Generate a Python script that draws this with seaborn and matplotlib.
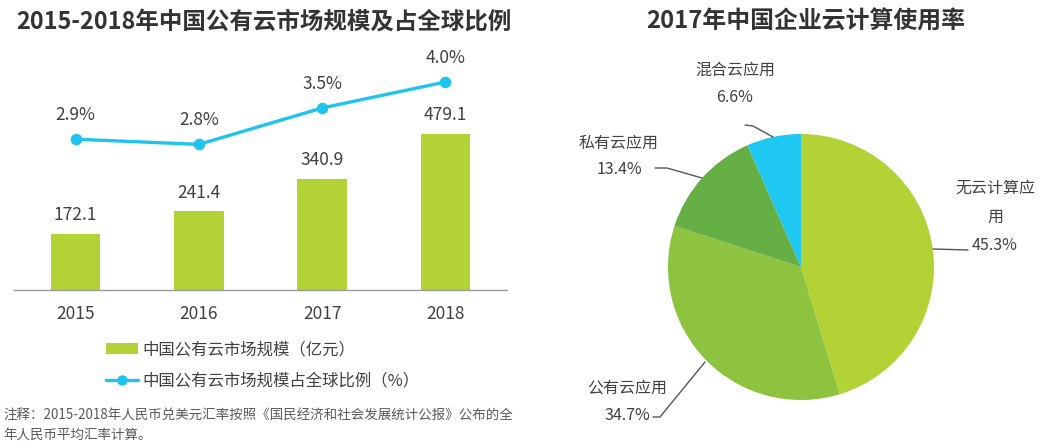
import matplotlib
matplotlib.use("Agg")
import matplotlib.pyplot as plt
import seaborn as sns
import pandas as pd
from matplotlib.patches import Patch
from matplotlib.lines import Line2D

# ---------------- data ----------------
years = ["2015", "2016", "2017", "2018"]
market_size = [172.1, 241.4, 340.9, 479.1]          # 亿元
global_share = [2.9, 2.8, 3.5, 4.0]                 # %
bar_title = "2015-2018年中国公有云市场规模及占全球比例"
bar_legend = ["中国公有云市场规模（亿元）", "中国公有云市场规模占全球比例（%）"]
footnote = ["注释：2015-2018年人民币兑美元汇率按照《国民经济和社会发展统计公报》公布的全",
            "年人民币平均汇率计算。"]

pie_title = "2017年中国企业云计算使用率"
pie_labels = ["无云计算应\n用", "公有云应用", "私有云应用", "混合云应用"]
pie_values = [45.3, 34.7, 13.4, 6.6]

# ---------------- style ----------------
sns.set_theme(style="white")
plt.rcParams['font.family'] = ['Noto Sans CJK SC', 'DejaVu Sans']
TXT = "#404040"
BAR_C = "#B2D235"
LINE_C = "#1FC3EF"
PIE_C = ["#B2D235", "#8DC33F", "#66AF45", "#1FC8F0"]

W, H = 1049, 441
fig = plt.figure(figsize=(W / 100, H / 100), dpi=100)

def fx(px):
    return px / W

def fy(py):
    return 1 - py / H

# ---------------- bar + line chart ----------------
ax_left, ax_right, ax_top, ax_bot = 14, 507, 50, 290
ax = fig.add_axes([fx(ax_left), fy(ax_bot), fx(ax_right - ax_left), (ax_bot - ax_top) / H])
df = pd.DataFrame({"year": years, "size": market_size, "share": global_share})
sns.barplot(data=df, x="year", y="size", ax=ax, color=BAR_C, width=0.40,
            saturation=1, edgecolor="none")
ax.set_xlim(-0.5, 3.5)
ax.set_ylim(0, 737)
for c in ax.containers:
    ax.bar_label(c, labels=[f"{v:.1f}" for v in market_size], padding=7,
                 fontsize=12.5, color=TXT)
for s in ["top", "left", "right"]:
    ax.spines[s].set_visible(False)
ax.spines["bottom"].set_color("#9a9a9a")
ax.spines["bottom"].set_linewidth(1.0)
ax.set_yticks([])
ax.set_xlabel("")
ax.set_ylabel("")
ax.tick_params(axis="x", length=0, pad=11, labelsize=12.5, labelcolor=TXT)

ax2 = ax.twinx()
sns.pointplot(data=df, x="year", y="share", ax=ax2, color=LINE_C,
              markers="o", markersize=6.5, linewidth=2.4)
ax2.set_xlim(-0.5, 3.5)
ax2.set_ylim(0, 4.615)
ax2.set_yticks([])
ax2.set_ylabel("")
for s in ["top", "left", "right", "bottom"]:
    ax2.spines[s].set_visible(False)
for i, v in enumerate(global_share):
    ax2.annotate(f"{v:.1f}%", (i, v), xytext=(0, 17.5), textcoords="offset points",
                 ha="center", va="center", fontsize=12.5, color=TXT)

fig.text(fx(16), fy(22), bar_title, fontsize=16.9, fontweight="bold",
         color="#333333", ha="left", va="center")

handles = [Patch(facecolor=BAR_C, edgecolor="none"),
           Line2D([], [], color=LINE_C, lw=2.4, marker="o", markersize=6.5)]
fig.legend(handles, bar_legend, loc="upper left",
           bbox_to_anchor=(fx(106), fy(341)), frameon=False, fontsize=11.8,
           labelcolor=TXT, handlelength=1.95, handletextpad=0.25,
           labelspacing=0.9, borderpad=0, borderaxespad=0)

fig.text(fx(3), fy(415), footnote[0], fontsize=9.7, color="#595959", ha="left", va="center")
fig.text(fx(3), fy(435), footnote[1], fontsize=9.7, color="#595959", ha="left", va="center")

# ---------------- pie chart ----------------
cx, cy, R = 801, 267, 133
p_left, p_right, p_top, p_bot = 540, 1049, 45, 441
axp = fig.add_axes([fx(p_left), fy(p_bot), fx(p_right - p_left), (p_bot - p_top) / H])
axp.pie(pie_values, colors=PIE_C, startangle=90, counterclock=False,
        wedgeprops=dict(linewidth=0))
axp.set_xlim((p_left - cx) / R, (p_right - cx) / R)
axp.set_ylim((cy - p_bot) / R, (cy - p_top) / R)
axp.set_aspect("auto")
axp.axis("off")

def d(px, py):
    return ((px - cx) / R, (cy - py) / R)

# label text positions (pixel) -> data
label_pos = [[(995, 188), (995, 217), (995, 245)],
             [(627, 388), (627, 416)],
             [(619, 143), (619, 170)],
             [(735, 70), (735, 98)]]
for lab, val, pos in zip(pie_labels, pie_values, label_pos):
    lines = lab.split("\n") + [f"{val:.1f}%"]
    for ln, (px, py) in zip(lines, pos):
        x, y = d(px, py)
        axp.text(x, y, ln, ha="center", va="center", fontsize=11.5, color=TXT)

leaders = [[(933, 249), (968, 250)],
           [(653, 417), (660, 417), (705, 362)],
           [(655, 168), (667, 168), (702, 178)],
           [(745, 125), (753, 126), (773, 137)]]
for pts in leaders:
    xs, ys = zip(*[d(px, py) for px, py in pts])
    axp.plot(xs, ys, color="#555555", lw=1.0)

fig.text(fx(806), fy(22), pie_title, fontsize=17.2, fontweight="bold",
         color="#333333", ha="center", va="center")

fig.savefig("out.png", dpi=100)
